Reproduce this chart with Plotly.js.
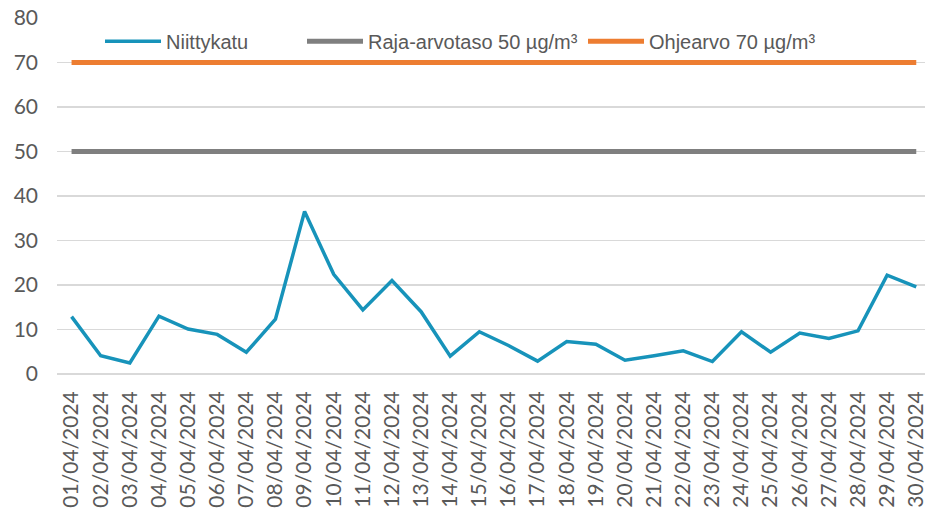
<!DOCTYPE html>
<html>
<head>
<meta charset="utf-8">
<script src="https://cdn.plot.ly/plotly-3.0.1.min.js"></script>
<style>html,body{margin:0;padding:0;background:#fff;overflow:hidden}</style>
</head>
<body>
<div id="chart" style="width:925px;height:509px"></div>
<script>
const dates = ["01/04/2024","02/04/2024","03/04/2024","04/04/2024","05/04/2024","06/04/2024","07/04/2024","08/04/2024","09/04/2024","10/04/2024","11/04/2024","12/04/2024","13/04/2024","14/04/2024","15/04/2024","16/04/2024","17/04/2024","18/04/2024","19/04/2024","20/04/2024","21/04/2024","22/04/2024","23/04/2024","24/04/2024","25/04/2024","26/04/2024","27/04/2024","28/04/2024","29/04/2024","30/04/2024"];
const niittykatu = [12.9,4.1,2.5,13.0,10.1,8.9,4.9,12.3,36.5,22.4,14.4,21.0,14.0,4.0,9.5,6.4,2.9,7.3,6.7,3.1,4.1,5.2,2.8,9.5,4.9,9.2,8.0,9.7,22.2,19.6];
const rajaArvo = 50;
const ohjeArvo = 70;
const yTicks = [0,10,20,30,40,50,60,70,80];

const rajaSeries = dates.map(() => rajaArvo);
const ohjeSeries = dates.map(() => ohjeArvo);

const traces = [
  {x: dates, y: niittykatu, name: "Niittykatu", type: "scatter", mode: "lines",
   line: {color: "#1793BA", width: 3.5}, legend: "legend"},
  {x: dates, y: rajaSeries, name: "Raja-arvotaso 50 µg/m³", type: "scatter", mode: "lines",
   line: {color: "#7F7F7F", width: 5}, legend: "legend2"},
  {x: dates, y: ohjeSeries, name: "Ohjearvo 70 µg/m³", type: "scatter", mode: "lines",
   line: {color: "#ED7D31", width: 5}, legend: "legend3"}
];

const legFont = {family: "Liberation Sans", size: 20, color: "#595959"};
function leg(px) {
  return {orientation: "h", x: (px - 57) / 868, xanchor: "left", y: 0.935, yanchor: "middle",
          font: legFont, bgcolor: "rgba(0,0,0,0)", itemwidth: 56};
}

const layout = {
  width: 925, height: 509,
  margin: {l: 57, r: 0, t: 18, b: 135},
  paper_bgcolor: "#fff", plot_bgcolor: "#fff",
  showlegend: true,
  legend: leg(100),
  legend2: leg(302),
  legend3: leg(583),
  xaxis: {type: "category", range: [-0.5, 29.3], showgrid: false, zeroline: false,
          showline: false, ticks: "", tickangle: -90, automargin: false,
          ticklabelstandoff: 12,
          tickfont: {family: "Lato", size: 21, color: "#595959"}},
  yaxis: {range: [0, 80], tickvals: yTicks, showgrid: true, gridcolor: "#D9D9D9",
          gridwidth: 1.5, zeroline: true, zerolinecolor: "#D9D9D9", zerolinewidth: 1.5,
          showline: false, ticks: "", automargin: false, ticklabelstandoff: 18,
          tickfont: {family: "Lato", size: 21, color: "#595959"}},
  hovermode: false
};

Plotly.newPlot("chart", traces, layout, {displayModeBar: false, staticPlot: true});
</script>
</body>
</html>
